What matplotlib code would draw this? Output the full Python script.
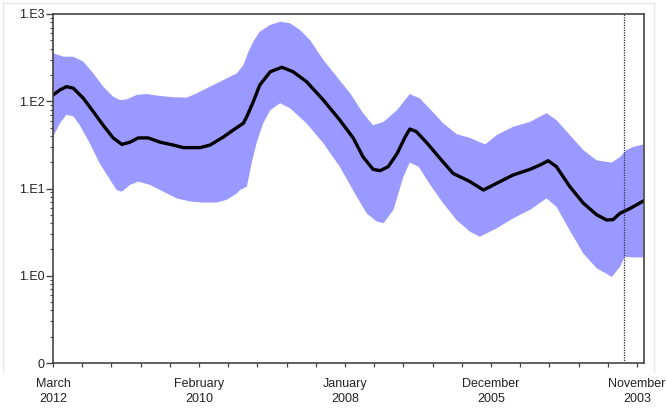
import matplotlib.pyplot as plt
from matplotlib.lines import Line2D
from matplotlib.ticker import FixedLocator, LogLocator, NullFormatter

plt.rcParams['font.family'] = ['Liberation Sans', 'DejaVu Sans']

# months back from March 2012
med_x = [0, 1.2, 2.3, 3.5, 5.2, 6.9, 8.6, 10.3, 11.8, 13.2, 14.6, 16.3, 18.3, 20.6, 22.3, 25.2,
         26.9, 29.2, 30.9, 32.6, 33.2, 34.3, 35.4, 37.2, 39.2, 41.1, 43.4, 46.3, 49.1, 51.4, 53.1,
         54.8, 56.0, 57.4, 58.9, 60.3, 61.1, 62.2, 63.9, 64.6, 66.3, 68.5, 71.4, 73.7, 76.0, 78.8,
         81.7, 83.4, 84.8, 86.2, 88.5, 90.8, 93.1, 94.8, 95.9, 97.1, 98.8, 101.1]
med_y = [118, 135, 147, 141, 108, 76, 53, 38, 32, 34, 38, 38, 34, 31.5, 29.4, 29.4,
         31.5, 39, 47, 56, 67, 99, 153, 218, 245, 218, 168, 103, 61, 38, 23,
         16.6, 16, 17.8, 25, 39, 48, 45, 34, 30, 22, 14.9, 12, 9.6, 11.5, 14.3,
         16.6, 18.6, 20.8, 17.8, 10.5, 6.8, 5.0, 4.35, 4.4, 5.2, 5.9, 7.2]

up_x = [0, 1.8, 3.5, 5.2, 6.9, 8.6, 10.3, 11.5, 12.6, 14.3, 16.0, 18.3, 20.6, 22.9, 24.6, 26.9,
        29.2, 31.5, 32.6, 33.4, 34.3, 35.4, 37.2, 38.9, 40.6, 42.3, 44.0, 46.3, 48.6, 50.9, 53.1,
        54.8, 56.6, 58.9, 61.1, 62.8, 64.6, 66.8, 69.1, 71.4, 74.0, 76.0, 78.8, 81.7, 84.5, 86.2,
        88.5, 90.8, 93.1, 95.7, 97.1, 98.2, 99.4, 101.1]
up_y = [355, 324, 324, 284, 209, 147, 113, 103, 105, 118, 121, 115, 111, 110, 123, 147,
        175, 209, 260, 360, 482, 627, 748, 816, 782, 656, 504, 297, 191, 123, 73,
        53, 58, 79, 121, 108, 81, 56, 42, 38, 32, 41, 51, 58, 73, 61,
        41, 27.6, 21, 19.8, 23, 27.6, 30, 32]

lo_x = [0, 1.2, 2.3, 3.5, 4.6, 6.3, 8.0, 9.8, 10.9, 11.8, 13.2, 14.6, 16.6, 18.9, 21.2, 23.5,
        25.7, 28.0, 29.7, 31.5, 32.0, 33.2, 34.0, 34.9, 36.0, 37.2, 38.9, 40.6, 43.4, 46.3, 49.1,
        52.0, 53.7, 55.4, 56.6, 58.3, 60.0, 61.1, 62.6, 64.6, 66.8, 69.1, 71.4, 73.1, 76.0, 78.8,
        81.7, 84.5, 86.2, 88.5, 90.8, 93.1, 95.7, 97.1, 97.9, 99.4, 101.1]
lo_y = [39, 56, 70, 67, 53, 33, 19.4, 12.5, 9.6, 9.2, 11, 12, 11, 9.2, 7.7, 7.1,
        6.9, 6.9, 7.4, 8.8, 9.6, 10.5, 19.4, 34, 56, 79, 95, 83, 56, 33, 17.8,
        8.1, 5.2, 4.2, 4.0, 5.7, 13.6, 19.8, 17.8, 11, 6.8, 4.35, 3.2, 2.8, 3.5, 4.55,
        5.7, 7.7, 6.2, 3.3, 1.8, 1.22, 0.97, 1.27, 1.65, 1.62, 1.62]

tick_months = [0, 25, 50, 75, 100]
tick_labels = ['March\n2012', 'February\n2010', 'January\n2008', 'December\n2005', 'November\n2003']
y_ticks = [0.1, 1, 10, 100, 1000]
y_labels = ['0', '1.E0', '1.E1', '1.E2', '1.E3']
cut_month = 97.8

fig = plt.figure(figsize=(6.66, 4.09), dpi=100)
ax = fig.add_axes([53 / 666, 1 - 363 / 409, (644 - 53) / 666, (363 - 14) / 409])

# band: upper edge then lower edge backwards
ax.fill(up_x + lo_x[::-1], up_y + lo_y[::-1], color='#9999ff', linewidth=0)
ax.plot(med_x, med_y, color='black', linewidth=2.4, solid_capstyle='round', solid_joinstyle='round')
ax.axvline(cut_month, color='#333333', linestyle=(0, (1, 1)), linewidth=0.9)

ax.set_yscale('log')
ax.set_ylim(0.1, 1000)
ax.set_xlim(0, 101.2)
ax.set_yticks(y_ticks)
ax.set_yticklabels(y_labels)
ax.yaxis.set_minor_locator(LogLocator(base=10, subs=range(2, 10)))
ax.yaxis.set_minor_formatter(NullFormatter())
ax.set_xticks(tick_months)
ax.set_xticklabels(tick_labels, linespacing=1.25)
ax.xaxis.set_minor_locator(FixedLocator(list(range(0, 101, 5))))

for s in ax.spines.values():
    s.set_color('#444444')
    s.set_linewidth(1.2)
ax.tick_params(axis='both', which='both', direction='out', color='#444444', labelsize=9,
               labelcolor='#222222')
ax.tick_params(axis='y', which='major', length=5, width=1, pad=1)
ax.tick_params(axis='y', which='minor', length=2.5, width=0.8)
ax.tick_params(axis='x', which='both', length=3, width=0.9)
ax.tick_params(axis='x', which='major', pad=8)

# faint outer frame
fc = '#e6e6e6'
for xs, ys in [([3, 654], [3, 3]), ([3, 3], [3, 372]), ([654, 654], [3, 372])]:
    fig.add_artist(Line2D([x / 666 for x in xs], [1 - y / 409 for y in ys], color=fc, linewidth=1))

plt.savefig('out.png', dpi=100)
